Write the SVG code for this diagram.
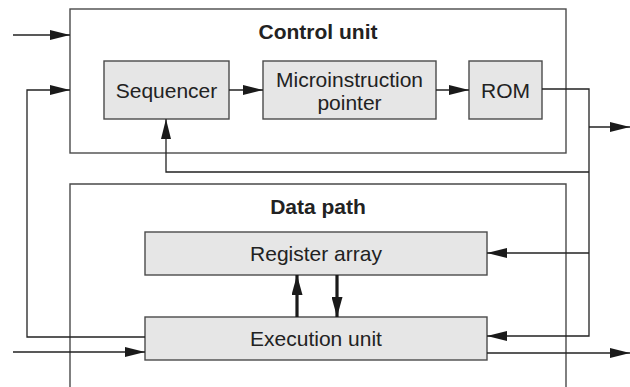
<svg xmlns="http://www.w3.org/2000/svg" width="630" height="387" viewBox="0 0 630 387">
<style>
.frame{fill:none;stroke:#4a4a4a;stroke-width:1.4}
.box{fill:#e6e6e6;stroke:#4a4a4a;stroke-width:1.4}
.t{font-family:"Liberation Sans",Arial,sans-serif;font-size:21px;fill:#222;text-anchor:middle}
.b{font-weight:bold}
.w{fill:none;stroke:#222;stroke-width:1.3}
.thick{fill:none;stroke:#1a1a1a;stroke-width:3.2}
</style>
<defs>
<marker id="ah" viewBox="0 0 20 10" refX="20" refY="5" markerWidth="20" markerHeight="10" markerUnits="userSpaceOnUse" orient="auto">
<path d="M0,0 L20,5 L0,10 Z" fill="#1a1a1a"/>
</marker>
<marker id="aht" viewBox="0 0 20 11" refX="20" refY="5.5" markerWidth="20" markerHeight="11" markerUnits="userSpaceOnUse" orient="auto">
<path d="M0,0 L20,5.5 L0,11 Z" fill="#1a1a1a"/>
</marker>
</defs>
<g id="control-unit">
<rect class="frame" x="70" y="9" width="496" height="144"/>
<text class="t b" x="318" y="39">Control unit</text>
</g>
<g id="data-path">
<path class="frame" d="M70,387 V184 H566 V387"/>
<text class="t b" x="318" y="214">Data path</text>
</g>
<g id="sequencer">
<rect class="box" x="104" y="61" width="125" height="58"/>
<text class="t" x="166.5" y="98">Sequencer</text>
</g>
<g id="micro-pointer">
<rect class="box" x="263" y="61" width="173" height="58"/>
<text class="t" x="349.5" y="87">Microinstruction</text>
<text class="t" x="349.5" y="110">pointer</text>
</g>
<g id="rom">
<rect class="box" x="469" y="61" width="73" height="58"/>
<text class="t" x="505.5" y="98">ROM</text>
</g>
<g id="register-array">
<rect class="box" x="145" y="232" width="342" height="43"/>
<text class="t" x="316" y="261">Register array</text>
</g>
<g id="execution-unit">
<rect class="box" x="145" y="317" width="342" height="43"/>
<text class="t" x="316" y="346">Execution unit</text>
</g>
<g id="connectors">
<path class="w" d="M13,35 H70" marker-end="url(#ah)"/>
<path class="w" d="M145,337 H27 V90 H70" marker-end="url(#ah)"/>
<path class="w" d="M229,90 H263" marker-end="url(#ah)"/>
<path class="w" d="M436,90 H469" marker-end="url(#ah)"/>
<path class="w" d="M542,89 H589 V336 H487" marker-end="url(#ah)"/>
<path class="w" d="M589,127 H630" marker-end="url(#ah)"/>
<path class="w" d="M589,253 H487" marker-end="url(#ah)"/>
<path class="w" d="M589,172 H166 V119" marker-end="url(#ah)"/>
<path class="w" d="M13,352 H145" marker-end="url(#ah)"/>
<path class="w" d="M487,353 H630" marker-end="url(#ah)"/>
<path class="thick" d="M297,317 V275" marker-end="url(#aht)"/>
<path class="thick" d="M337,275 V317" marker-end="url(#aht)"/>
</g>
</svg>
